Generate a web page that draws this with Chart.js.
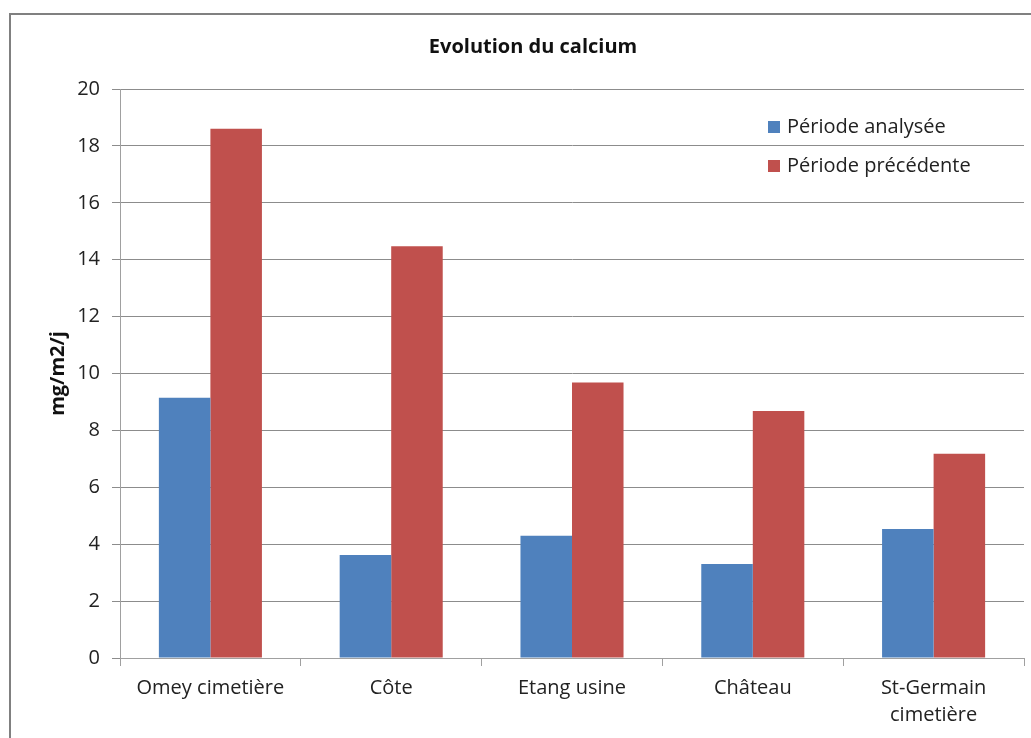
<!DOCTYPE html>
<html>
<head>
<meta charset="utf-8">
<script src="https://cdn.jsdelivr.net/npm/chart.js@4/dist/chart.umd.min.js"></script>
<style>
  html, body { margin: 0; padding: 0; background: #fff; }
  #wrap { width: 1031px; height: 738px; position: relative; }
</style>
</head>
<body>
<div id="wrap"><canvas id="chart"></canvas></div>
<script>
// data
const sites = ['Omey cimetière', 'Côte', 'Etang usine', 'Château', ['St-Germain', 'cimetière']];
const periodeAnalysee = [9.15, 3.62, 4.3, 3.3, 4.53];
const periodePrecedente = [18.6, 14.47, 9.68, 8.68, 7.18];
const seriesNames = ['Période analysée', 'Période précédente'];
const seriesColors = ['#4F81BD', '#C0504D'];

const FONT = '"Open Sans", "Liberation Sans", sans-serif';

// grey frame round the chart
const framePlugin = {
  id: 'frame',
  beforeDraw(chart) {
    const ctx = chart.ctx;
    ctx.save();
    ctx.strokeStyle = '#808080';
    ctx.lineWidth = 2;
    ctx.strokeRect(10, 14, 1040, 760);
    ctx.restore();
  }
};

// legend sitting inside the plot, top right
const legendPlugin = {
  id: 'insideLegend',
  afterDraw(chart) {
    const ctx = chart.ctx;
    ctx.save();
    ctx.font = '20px ' + FONT;
    ctx.textBaseline = 'middle';
    chart.data.datasets.forEach((ds, i) => {
      const y = 127 + i * 39;
      ctx.fillStyle = ds.backgroundColor;
      ctx.fillRect(768, y - 6, 12, 12);
      ctx.fillStyle = '#222';
      ctx.fillText(ds.label, 787, y);
    });
    ctx.restore();
  }
};

new Chart(document.getElementById('chart'), {
  type: 'bar',
  data: {
    labels: sites,
    datasets: [
      { label: seriesNames[0], data: periodeAnalysee, backgroundColor: seriesColors[0] },
      { label: seriesNames[1], data: periodePrecedente, backgroundColor: seriesColors[1] }
    ]
  },
  options: {
    responsive: true,
    maintainAspectRatio: false,
    animation: false,
    layout: { padding: { left: 42, right: 7, top: 0, bottom: 0 } },
    datasets: { bar: { categoryPercentage: 0.57, barPercentage: 1.0 } },
    plugins: {
      legend: { display: false },
      tooltip: { enabled: false },
      title: {
        display: true,
        text: 'Evolution du calcium',
        color: '#111',
        font: { family: FONT, size: 20, weight: 'bold' },
        padding: { top: 35, bottom: 30 }
      }
    },
    scales: {
      x: {
        grid: { offset: true, drawOnChartArea: false, drawTicks: true, tickLength: 8, color: '#a0a0a0' },
        border: { color: '#a0a0a0' },
        ticks: { color: '#222', font: { family: FONT, size: 20, lineHeight: 1.35 }, padding: 9, maxRotation: 0, autoSkip: false },
        afterFit(scale) { scale.height = 80; }
      },
      y: {
        min: 0,
        max: 20,
        ticks: { stepSize: 2, color: '#222', font: { family: FONT, size: 20 }, padding: 12 },
        grid: { color: '#8c8c8c', tickLength: 8 },
        border: { color: '#a0a0a0' },
        title: {
          display: true,
          text: 'mg/m2/j',
          color: '#111',
          font: { family: FONT, size: 20, weight: 'bold' }
        },
        afterFit(scale) { scale.width = 78; }
      }
    }
  },
  plugins: [framePlugin, legendPlugin]
});
</script>
</body>
</html>
